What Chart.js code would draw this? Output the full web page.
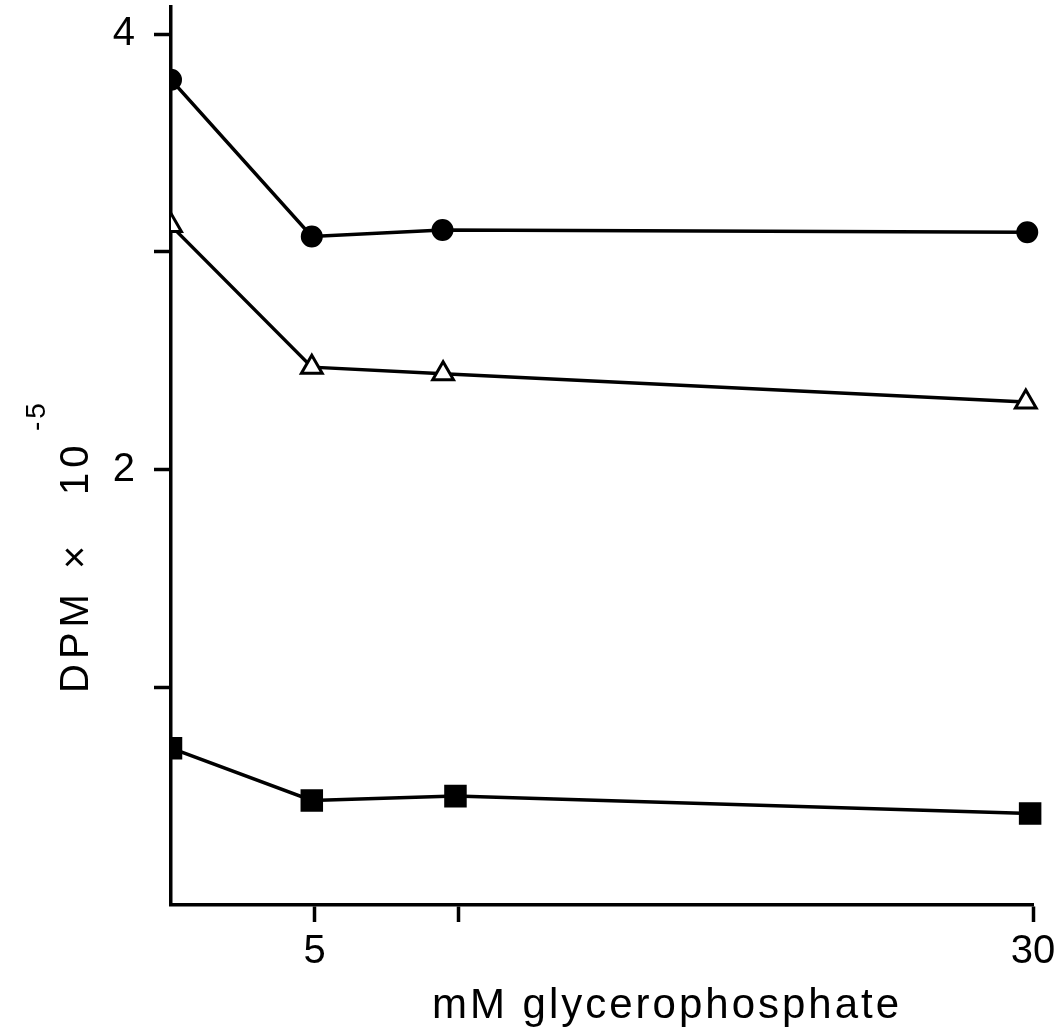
<!DOCTYPE html>
<html>
<head>
<meta charset="utf-8">
<title>DPM vs mM glycerophosphate</title>
<script src="https://cdn.jsdelivr.net/npm/chart.js@4.4.1/dist/chart.umd.min.js"></script>
<style>
  html, body { margin: 0; padding: 0; background: #fff; }
  canvas { display: block; }
</style>
</head>
<body>
<canvas id="myChart" width="1059" height="1031"></canvas>
<script>
// Values (x = mM glycerophosphate, y = DPM x 10^-5)
var circleX = [0, 4.9, 9.45, 29.8];
var circleY = [3.79, 3.07, 3.10, 3.09];
var triangleX = [0, 4.9, 9.47, 29.75];
var triangleY = [3.12, 2.47, 2.44, 2.31];
var squareX = [0, 4.9, 9.9, 29.9];
var squareY = [0.72, 0.48, 0.50, 0.42];

// ticks, only some carry a label
var xTicks = [5, 10, 30];
var xTickLabels = ["5", "", "30"];
var yTicks = [1, 2, 3, 4];
var yTickLabels = ["", "2", "", "4"];

var xTitle = "mM glycerophosphate";
// y title pieces, spaced out like the hand lettering
var yTitleParts = ["DPM", "\u00d7", "10"];
var yTitleSup = "-5";

var FONT = '"Liberation Sans", "DejaVu Sans", sans-serif';

function toPoints(xs, ys) {
  return xs.map(function (x, i) { return { x: x, y: ys[i] }; });
}

// axis titles drawn by hand so they can sit off-centre like the original
var axisTitles = {
  id: 'axisTitles',
  afterDraw: function (chart) {
    var ctx = chart.ctx;
    var area = chart.chartArea;
    ctx.save();
    ctx.fillStyle = '#000';
    ctx.textBaseline = 'alphabetic';

    // x title
    ctx.font = '42px ' + FONT;
    ctx.letterSpacing = '3px';
    ctx.textAlign = 'center';
    ctx.fillText(xTitle, (area.left + area.right) / 2 + 65, chart.height - 13);

    // y title, rotated, with a raised exponent
    ctx.translate(88, area.bottom - 212);
    ctx.rotate(-Math.PI / 2);
    ctx.textAlign = 'left';
    ctx.font = '40px ' + FONT;
    ctx.letterSpacing = '5px';
    var offsets = [0, 124, 198];
    yTitleParts.forEach(function (t, i) { ctx.fillText(t, offsets[i], 0); });
    ctx.font = '28px ' + FONT;
    ctx.letterSpacing = '3px';
    ctx.fillText(yTitleSup, 262, -43);
    ctx.restore();
  }
};

var leftClip = { left: 0, top: false, right: false, bottom: false };

var ctx = document.getElementById("myChart");
var myChart = new Chart(ctx, {
  type: 'line',
  data: {
    datasets: [
      {
        label: "circles",
        data: toPoints(circleX, circleY),
        borderColor: "#000",
        borderWidth: 3.5,
        pointStyle: 'circle',
        pointRadius: 10,
        pointBorderWidth: 2,
        pointBackgroundColor: "#000",
        pointBorderColor: "#000",
        fill: false,
        clip: leftClip
      },
      {
        label: "triangles",
        data: toPoints(triangleX, triangleY),
        borderColor: "#000",
        borderWidth: 3.5,
        pointStyle: 'triangle',
        pointRadius: 12,
        pointBorderWidth: 3,
        pointBackgroundColor: "#fff",
        pointBorderColor: "#000",
        fill: false,
        clip: leftClip
      },
      {
        label: "squares",
        data: toPoints(squareX, squareY),
        borderColor: "#000",
        borderWidth: 3.5,
        pointStyle: 'rect',
        pointRadius: 14.5,
        pointBorderWidth: 2,
        pointBackgroundColor: "#000",
        pointBorderColor: "#000",
        fill: false,
        clip: leftClip
      }
    ]
  },
  options: {
    responsive: false,
    animation: false,
    layout: { autoPadding: false, padding: { top: 7, right: 26, left: 0, bottom: 0 } },
    plugins: {
      legend: { display: false },
      tooltip: { enabled: false }
    },
    scales: {
      x: {
        type: 'linear',
        min: 0,
        max: 30,
        afterBuildTicks: function (s) { s.ticks = xTicks.map(function (v) { return { value: v }; }); },
        afterFit: function (s) { s.height = 126; s.paddingLeft = 0; s.paddingRight = 0; },
        ticks: {
          autoSkip: false,
          maxRotation: 0,
          padding: 6,
          color: "#000",
          font: { family: FONT, size: 40 },
          callback: function (v, i) { return xTickLabels[i]; }
        },
        grid: { drawOnChartArea: false, drawTicks: true, tickLength: 17, tickWidth: 3.5, tickColor: "#000" },
        border: { display: true, color: "#000", width: 3.5 }
      },
      y: {
        type: 'linear',
        min: 0,
        max: 4.124,
        afterBuildTicks: function (s) { s.ticks = yTicks.map(function (v) { return { value: v }; }); },
        afterFit: function (s) { s.width = 171; s.paddingTop = 0; s.paddingBottom = 0; },
        ticks: {
          autoSkip: false,
          padding: 19,
          color: "#000",
          font: { family: FONT, size: 40 },
          callback: function (v, i) { return yTickLabels[i]; }
        },
        grid: { drawOnChartArea: false, drawTicks: true, tickLength: 17, tickWidth: 3.5, tickColor: "#000" },
        border: { display: true, color: "#000", width: 3.5 }
      }
    }
  },
  plugins: [axisTitles]
});
</script>
</body>
</html>
